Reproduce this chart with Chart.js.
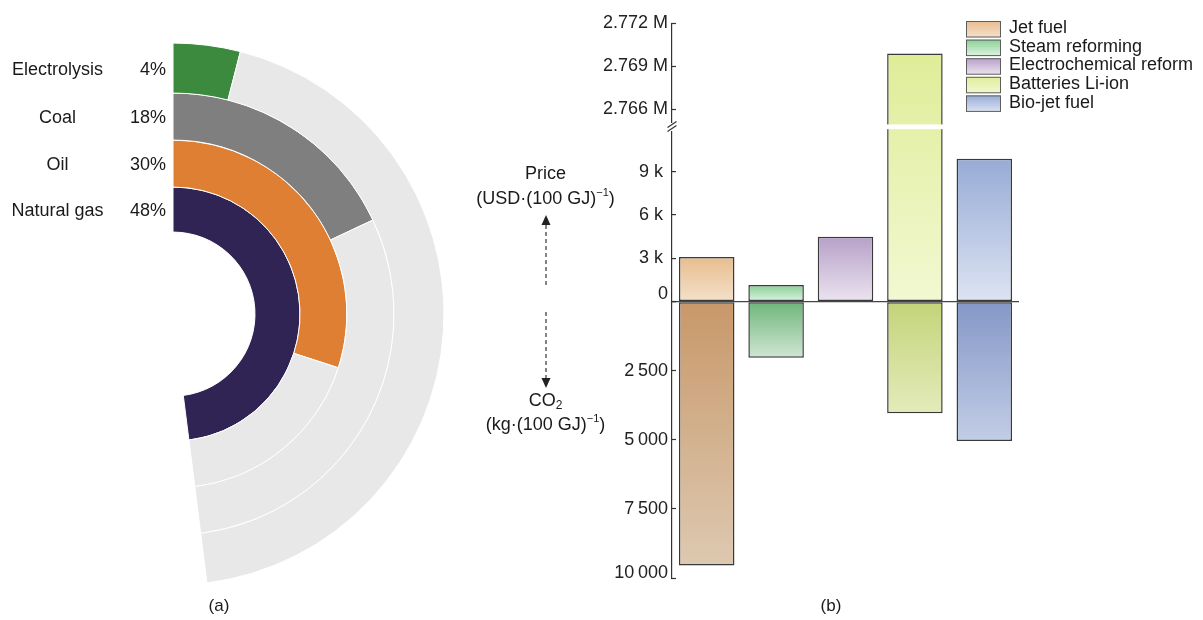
<!DOCTYPE html>
<html>
<head>
<meta charset="utf-8">
<script src="https://cdn.jsdelivr.net/npm/chart.js@4/dist/chart.umd.min.js"></script>
<style>
  html, body { margin: 0; padding: 0; background: #fff; }
  #wrap { position: relative; width: 1203px; height: 620px; overflow: hidden; }
  canvas { position: absolute; top: 0; }
  #mix { left: 0; }
  #cost { left: 440px; }
</style>
</head>
<body>
<div id="wrap">
  <canvas id="mix" width="460" height="620"></canvas>
  <canvas id="cost" width="763" height="620"></canvas>
</div>
<script>
const FONT = '"Liberation Sans", Arial, Helvetica, sans-serif';
Chart.defaults.font.family = FONT;
Chart.defaults.font.size = 18;
Chart.defaults.color = '#222';

// ---- (a) hydrogen production by source ----
const sources = ['Electrolysis', 'Coal', 'Oil', 'Natural gas'];
const sourceShare = [4, 18, 30, 48];

// ---- (b) price and CO2 per 100 GJ ----
const fuels = ['Jet fuel', 'Steam reforming', 'Electrochemical reform', 'Batteries Li-ion', 'Bio-jet fuel'];
const priceUSD = [3100, 1150, 4500, 2769900, 9900];
const co2Kg = [9550, 2030, null, 4040, 5040];
const priceTicks = [0, 3000, 6000, 9000];
const priceHighTicks = [2766000, 2769000, 2772000];
const co2Ticks = [0, 2500, 5000, 7500, 10000];

// ---- styles ----
const ringColors = ['#3b8a3d', '#807f80', '#de7f34', '#2f2453'];
const ringTrack = '#e8e8e8';
const ringWeights = [50, 47, 47, 45];

const priceFill = [
  ['#e8bd8f', '#f4e1ca'],
  ['#88d096', '#e0f3e3'],
  ['#b7a0c8', '#ece4f0'],
  ['#dfed98', '#f2f8d2'],
  ['#97abd6', '#dde4f2']
];
const co2Fill = [
  ['#c8986a', '#ddc9b1'],
  ['#6fb57b', '#d0e6d3'],
  ['#cccccc', '#eeeeee'],
  ['#c3d479', '#e4ebbb'],
  ['#8497c7', '#c2cde6']
];
const INK = '#1a1a1a';

// ================= (a) radial bars =================
const maxShare = Math.max(...sourceShare);

const ringLabels = {
  id: 'ringLabels',
  afterDraw(chart) {
    const ctx = chart.ctx;
    ctx.save();
    ctx.font = '18px ' + FONT;
    ctx.fillStyle = INK;
    ctx.textBaseline = 'middle';
    chart.data.datasets.forEach((ds, i) => {
      const arc = chart.getDatasetMeta(i).data[0];
      const y = arc.y - (arc.innerRadius + arc.outerRadius) / 2 + 1.5;
      ctx.textAlign = 'center';
      ctx.fillText(ds.label, arc.x - 115.5, y);
      ctx.textAlign = 'right';
      ctx.fillText(sourceShare[i] + '%', arc.x - 7, y);
    });
    ctx.font = '17px ' + FONT;
    ctx.textAlign = 'center';
    ctx.fillText('(a)', 219, 606);
    ctx.restore();
  }
};

new Chart(document.getElementById('mix'), {
  type: 'doughnut',
  data: {
    labels: ['share', 'rest'],
    datasets: sources.map((name, i) => ({
      label: name,
      data: [sourceShare[i], maxShare - sourceShare[i]],
      backgroundColor: [ringColors[i], ringTrack],
      borderColor: '#ffffff',
      borderWidth: 1,
      weight: ringWeights[i],
      clip: false
    }))
  },
  options: {
    responsive: false,
    devicePixelRatio: 1,
    animation: false,
    events: [],
    rotation: 0,
    circumference: maxShare * 3.6,
    cutout: '30.26%',
    radius: 271,
    layout: { padding: { left: 157, top: 6, right: 0, bottom: 0 } },
    plugins: { legend: { display: false }, tooltip: { enabled: false } }
  },
  plugins: [ringLabels]
});

// ================= (b) broken-axis bars =================
const PRICE_MAX = 12100;
const HIGH_MIN = 2764760;
const HIGH_MAX = 2772000;
const SEG_HIGH = 103.7, SEG_PRICE = 174.7, SEG_CO2 = 276.3;
const AXIS_W = 232;

const groupDigits = v => String(v).replace(/\B(?=(\d{3})+(?!\d))/g, '\u2009');
const fmtHigh = v => (v / 1e6).toFixed(3) + ' M';
const fmtPrice = v => v === 0 ? ['0', ''] : (v / 1000) + ' k ';
const fmtCo2 = v => {
  if (v === 0) return '';
  const s = groupDigits(v);
  return v === co2Ticks[co2Ticks.length - 1] ? [s, ''] : s;
};

function pricePixel(chart, v) {
  const s = v > PRICE_MAX ? chart.scales.yHigh : chart.scales.yPrice;
  return s.getPixelForValue(v);
}

function barFill(kind) {
  return (c) => {
    const chart = c.chart;
    if (c.type !== 'data' || !chart.chartArea || !chart.scales.yPrice) return priceFill[0][0];
    const i = c.dataIndex;
    const zero = chart.scales.yPrice.getPixelForValue(0);
    let y0, y1, cols;
    if (kind === 'price') {
      y0 = pricePixel(chart, priceUSD[i]);
      y1 = zero;
      cols = priceFill[i];
    } else {
      y0 = zero;
      y1 = chart.scales.yCo2.getPixelForValue(co2Kg[i] == null ? 0 : co2Kg[i]);
      cols = co2Fill[i];
    }
    if (!isFinite(y0) || !isFinite(y1) || Math.abs(y1 - y0) < 1) return cols[0];
    const g = chart.ctx.createLinearGradient(0, y0, 0, y1);
    g.addColorStop(0, cols[0]);
    g.addColorStop(1, cols[1]);
    return g;
  };
}

const barStyle = {
  grouped: false,
  barPercentage: 0.8,
  categoryPercentage: 1,
  borderColor: '#3a3a3a',
  borderWidth: 1.5,
  borderSkipped: false
};

function drawRuns(ctx, runs, cx, y) {
  let total = 0;
  runs.forEach(r => {
    ctx.font = r.size + 'px ' + FONT;
    r.w = ctx.measureText(r.t).width;
    total += r.w;
  });
  let x = cx - total / 2;
  ctx.textAlign = 'left';
  runs.forEach(r => {
    ctx.font = r.size + 'px ' + FONT;
    ctx.fillText(r.t, x, y + (r.dy || 0));
    x += r.w;
  });
}

function dashedArrow(ctx, x, yFrom, yTo, up) {
  // dashed shaft from yFrom to yTo, arrow head at the far end
  const head = 10, half = 4.5;
  const tip = up ? yTo - head : yTo + head;
  ctx.beginPath();
  ctx.setLineDash([4, 3]);
  ctx.moveTo(x, yFrom);
  ctx.lineTo(x, yTo);
  ctx.stroke();
  ctx.setLineDash([]);
  ctx.beginPath();
  ctx.moveTo(x, tip);
  ctx.lineTo(x - half, yTo);
  ctx.lineTo(x + half, yTo);
  ctx.closePath();
  ctx.fill();
}

const decorations = {
  id: 'decorations',
  afterDatasetsDraw(chart) {
    const ctx = chart.ctx;
    const area = chart.chartArea;
    const yb = chart.scales.yHigh.bottom;
    const ax = area.left;
    ctx.save();
    // axis break: gap through bars and axis line
    ctx.fillStyle = '#ffffff';
    ctx.fillRect(ax + 1, yb - 2.6, area.right - ax, 4.8);
    ctx.fillRect(ax - 3, yb - 4, 6, 8);
    ctx.strokeStyle = '#333';
    ctx.lineWidth = 1.2;
    ctx.beginPath();
    ctx.moveTo(ax - 4.5, yb + 0.5);
    ctx.lineTo(ax + 4.5, yb - 5.5);
    ctx.moveTo(ax - 4.5, yb + 4.5);
    ctx.lineTo(ax + 4.5, yb - 1.5);
    ctx.stroke();
    ctx.restore();
  },
  afterDraw(chart) {
    const ctx = chart.ctx;
    ctx.save();
    ctx.textBaseline = 'middle';
    ctx.fillStyle = INK;

    // legend
    const LX = 526, LY = 21, ROW = 18.6, SW = 35, SH = 16.5;
    fuels.forEach((name, i) => {
      const y = LY + i * ROW;
      const g = ctx.createLinearGradient(0, y, 0, y + SH);
      g.addColorStop(0, priceFill[i][0]);
      g.addColorStop(1, priceFill[i][1]);
      ctx.fillStyle = g;
      ctx.fillRect(LX, y, SW, SH);
      ctx.strokeStyle = '#5e5e5e';
      ctx.lineWidth = 1;
      ctx.strokeRect(LX + 0.5, y + 0.5, SW - 1, SH - 1);
      ctx.fillStyle = INK;
      ctx.font = '18px ' + FONT;
      ctx.textAlign = 'left';
      ctx.fillText(name, LX + 43, y + SH / 2 - 1);
    });

    // axis descriptions with arrows
    const cx = 105.5;
    ctx.fillStyle = INK;
    drawRuns(ctx, [{ t: 'Price', size: 18 }], cx, 174);
    drawRuns(ctx, [{ t: '(USD\u00b7(100 GJ)', size: 18 }, { t: '\u22121', size: 11, dy: -6 }, { t: ')', size: 18 }], cx, 199);
    drawRuns(ctx, [{ t: 'CO', size: 18 }, { t: '2', size: 12, dy: 5 }], cx, 401);
    drawRuns(ctx, [{ t: '(kg\u00b7(100 GJ)', size: 18 }, { t: '\u22121', size: 11, dy: -6 }, { t: ')', size: 18 }], cx, 425);

    ctx.strokeStyle = '#333';
    ctx.fillStyle = '#222';
    ctx.lineWidth = 1.2;
    dashedArrow(ctx, 106, 285, 225, true);
    dashedArrow(ctx, 106, 312, 378, false);

    // panel caption
    ctx.fillStyle = INK;
    ctx.font = '17px ' + FONT;
    ctx.textAlign = 'center';
    ctx.fillText('(b)', 391, 606);
    ctx.restore();
  }
};

const commonAxis = {
  type: 'linear',
  position: 'left',
  stack: 'v',
  clip: false,
  afterFit: s => { s.width = AXIS_W; },
  border: { display: true, color: '#333', width: 1.2 }
};

new Chart(document.getElementById('cost'), {
  type: 'bar',
  data: {
    labels: fuels,
    datasets: [
      Object.assign({
        label: 'Price',
        data: priceUSD,
        yAxisID: 'yPrice',
        backgroundColor: barFill('price'),
        clip: { left: 0, top: -SEG_HIGH, right: 0, bottom: 0 }
      }, barStyle),
      Object.assign({
        label: 'Price (upper range)',
        data: priceUSD.map(v => v > PRICE_MAX ? v : null),
        yAxisID: 'yHigh',
        base: HIGH_MIN,
        backgroundColor: barFill('price')
      }, barStyle),
      Object.assign({
        label: 'CO2',
        data: co2Kg,
        yAxisID: 'yCo2',
        backgroundColor: barFill('co2')
      }, barStyle)
    ]
  },
  options: {
    responsive: false,
    devicePixelRatio: 1,
    animation: false,
    events: [],
    layout: { padding: { left: 0, top: 23.3, right: 184, bottom: 42 } },
    plugins: { legend: { display: false }, tooltip: { enabled: false } },
    scales: {
      x: { type: 'category', display: false, clip: false, offset: true },
      yCo2: Object.assign({}, commonAxis, {
        stackWeight: SEG_CO2,
        reverse: true,
        min: 0,
        max: co2Ticks[co2Ticks.length - 1],
        afterBuildTicks: s => { s.ticks = co2Ticks.map(v => ({ value: v })); },
        ticks: { autoSkip: false, padding: 8, color: '#222', font: { size: 18, lineHeight: '10px' }, callback: v => fmtCo2(v) },
        grid: { drawOnChartArea: false, drawTicks: true, tickLength: -4, tickColor: '#333', tickWidth: 1.2, color: '#333' }
      }),
      yPrice: Object.assign({}, commonAxis, {
        stackWeight: SEG_PRICE,
        min: 0,
        max: PRICE_MAX,
        afterBuildTicks: s => { s.ticks = priceTicks.map(v => ({ value: v })); },
        ticks: { autoSkip: false, padding: 8, color: '#222', font: { size: 18, lineHeight: '15px' }, callback: v => fmtPrice(v) },
        grid: {
          drawOnChartArea: true, drawTicks: true, tickLength: -4, tickColor: '#333', tickWidth: 1.2, lineWidth: 1.2,
          color: c => (c.tick && c.tick.value === 0) ? '#444' : 'rgba(0,0,0,0)'
        }
      }),
      yHigh: Object.assign({}, commonAxis, {
        stackWeight: SEG_HIGH,
        min: HIGH_MIN,
        max: HIGH_MAX,
        afterBuildTicks: s => { s.ticks = priceHighTicks.map(v => ({ value: v })); },
        ticks: { autoSkip: false, padding: 8, color: '#222', font: { size: 18 }, callback: v => fmtHigh(v) },
        grid: { drawOnChartArea: false, drawTicks: true, tickLength: -4, tickColor: '#333', tickWidth: 1.2, color: '#333' }
      })
    }
  },
  plugins: [decorations]
});
</script>
</body>
</html>
